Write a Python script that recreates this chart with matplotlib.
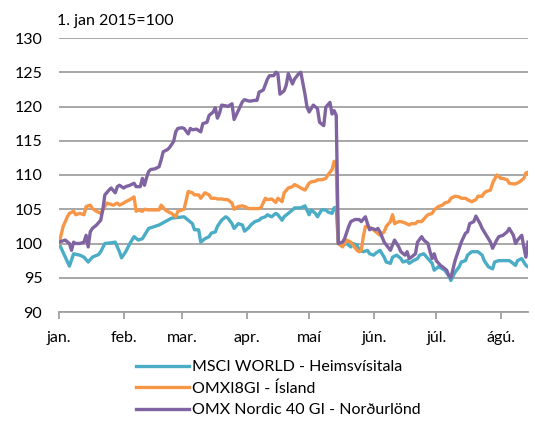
import numpy as np
import pandas as pd
import matplotlib
matplotlib.use("Agg")
import matplotlib.pyplot as plt

# days since 1 jan 2015 and index values
msci_days = [0, 5, 7, 10, 12, 14, 16, 19, 20, 22, 25, 27, 29, 30, 32, 34, 36, 38, 40, 41,
             43, 46, 48, 51, 54, 57, 60, 62, 64, 65, 67, 68, 70, 72, 73, 75, 76, 78, 80, 81,
             83, 84, 86, 88, 89, 91, 92, 94, 96, 97, 99, 100, 102, 104, 105, 107, 108, 110, 112, 113,
             115, 116, 118, 120, 121, 123, 124, 126, 128, 129, 131, 132, 133,
             134, 136, 138, 140, 141, 143, 144, 146, 148, 149, 151, 152, 154, 156, 157, 159, 160,
             162, 164, 165, 167, 168, 170, 172, 173, 175, 177, 179, 180, 182, 184, 185, 187, 188, 190,
             192, 193, 195, 196, 198, 200, 201, 203, 204, 206, 208, 209, 211, 212, 214, 216, 217, 219,
             220, 222, 224, 225]
msci = [100, 96.7, 98.5, 98.3, 98.0, 97.3, 98.0, 98.4, 98.8, 100, 100.1, 100.2, 98.8, 97.9, 98.8, 100, 101, 100.5, 100.7, 101.2,
        102.2, 102.5, 102.7, 103.2, 103.7, 103.8, 103.9, 103.4, 102.9, 102.0, 102.0, 100.2, 100.7, 101.0, 101.5, 101.7, 102.5, 103.4, 103.9, 103.7,
        102.9, 102.2, 102.9, 102.7, 101.8, 102.3, 102.7, 103.2, 103.4, 103.7, 103.9, 104.2, 103.9, 104.4, 104.2, 103.4, 103.9, 104.4, 104.9, 105.2,
        105.2, 105.2, 105.5, 104.2, 104.9, 104.4, 103.9, 104.9, 104.9, 104.6, 104.4, 105.2, 105.3,
        100, 99.8, 100.0, 99.5, 100, 99.8, 99.0, 98.8, 99.0, 98.5, 98.3, 98.6, 99.0, 98.0, 97.3, 97.1, 98.0,
        98.3, 97.8, 97.3, 97.5, 97.1, 97.5, 97.8, 98.3, 98.5, 97.8, 97.1, 96.1, 96.6, 96.3, 96.1, 95.3, 94.6, 95.8,
        96.6, 97.3, 97.5, 98.3, 98.8, 98.8, 98.8, 98.3, 97.5, 96.6, 96.3, 97.3, 97.5, 97.5, 97.5, 97.5, 97.3, 96.8,
        97.5, 97.8, 96.8, 96.6]

omxi_days = [0, 2, 4, 5, 7, 8, 10, 12, 13, 15, 16, 18, 20, 21, 23, 24, 26, 28, 29, 31,
             32, 34, 36, 37, 38, 40, 41, 43, 44, 46, 48, 49, 51, 52, 54, 56, 57, 59, 60, 62,
             64, 65, 67, 68, 70, 72, 73, 75, 76, 78, 80, 81, 83, 84, 86, 88, 89, 91, 92, 94,
             96, 97, 99, 100, 102, 104, 105, 107, 108, 110, 112, 113, 115, 116, 118, 120, 121, 123, 124, 126,
             128, 129, 131, 132, 133,
             134, 136, 138, 140, 141, 143, 144, 145, 146, 147, 148, 150, 152, 154, 156, 157, 159, 160, 161,
             163, 164, 166, 168, 169, 171, 172, 174, 176, 177, 179, 180, 182, 184, 185, 187, 188, 190, 192,
             193, 195, 196, 198, 200, 201, 203, 204, 205, 207, 208, 210, 212, 213, 215, 216, 218, 219, 221,
             223, 224, 225]
omxi = [100, 102.5, 103.9, 104.4, 104.7, 104.2, 104.4, 104.2, 105.4, 105.6, 105.1, 104.7, 104.4, 104.9, 105.9, 105.8, 105.6, 105.9, 105.6, 105.9,
        106.1, 106.4, 106.8, 104.7, 104.9, 104.7, 105.0, 104.9, 104.9, 104.9, 104.9, 105.6, 104.9, 104.7, 104.4, 103.9, 104.7, 104.9, 105.0, 107.6,
        107.4, 107.1, 107.1, 106.6, 107.4, 107.1, 106.6, 106.6, 106.5, 106.5, 106.4, 106.4, 105.9, 105.0, 105.4, 105.5, 105.4, 105.1, 105.1, 105.1,
        105.1, 105.3, 106.6, 106.4, 106.5, 106.0, 106.6, 106.1, 107.4, 108.1, 108.3, 108.6, 108.3, 108.1, 107.8, 108.8, 109.0, 109.1, 109.3, 109.3,
        109.5, 110.0, 110.8, 112.0, 111.2,
        100, 99.5, 100.5, 100.2, 99.8, 99.0, 98.8, 99.0, 101.0, 102.5, 102.5, 102.2, 101.7, 101.2, 101.7, 102.5, 103.2, 104.2, 102.9,
        103.2, 103.2, 103.0, 102.7, 102.9, 102.9, 103.2, 103.2, 103.9, 104.2, 104.4, 104.9, 105.4, 105.6, 105.9, 106.1, 106.6, 106.9, 106.8,
        106.6, 106.6, 106.4, 106.1, 106.4, 106.9, 106.9, 107.4, 107.6, 107.8, 108.8, 110.0, 109.5, 109.5, 109.3, 108.8, 108.7, 108.7, 109.0,
        109.5, 110.3, 110.4]

nordic_days = [0, 3, 5, 6, 7, 8, 10, 12, 13, 14, 15, 16, 18, 20, 21, 22, 24, 25, 27, 28,
               29, 31, 32, 34, 36, 37, 39, 40, 41, 42, 43, 44, 46, 48, 49, 50, 52, 53, 55, 56,
               57, 59, 60, 62, 63, 64, 66, 68, 69, 71, 72, 74, 75, 76, 77, 78, 80, 81, 83, 84,
               86, 88, 89, 91, 92, 94, 95, 96, 98, 100, 101, 103, 104, 105, 106, 108, 109, 110, 112, 113,
               115, 116, 118, 119, 120, 122, 124, 125, 127, 128, 130, 131, 132, 133,
               134, 136, 137, 139, 140, 142, 144, 145, 147, 148, 149, 150, 152, 153, 154, 156, 157, 159, 160,
               161, 163, 164, 166, 167, 168, 169, 171, 172, 174, 175, 177, 178, 179, 180, 181, 183, 184, 186,
               187, 188, 190, 192, 193, 195, 196, 197, 199, 200, 202, 203, 205, 207, 208, 210, 211, 213, 215,
               216, 218, 219, 220, 222, 223, 224, 225]
nordic = [100.2, 100.5, 100.0, 99.0, 100.2, 100.0, 100.0, 100.2, 101.2, 99.5, 101.7, 102.2, 102.7, 103.4, 104.9, 107.1, 107.8, 108.1, 107.4, 108.3,
          108.5, 108.1, 108.3, 108.5, 108.8, 108.3, 108.3, 109.5, 108.5, 109.6, 110.5, 110.8, 110.9, 111.2, 112.2, 113.4, 113.7, 114.0, 114.9, 116.3,
          116.8, 116.9, 116.8, 116.0, 116.8, 116.6, 116.7, 116.3, 117.5, 117.7, 118.7, 119.2, 119.8, 118.3, 119.0, 120.2, 120.1, 120.0, 120.4, 118.1,
          119.4, 120.7, 121.0, 120.8, 120.8, 120.9, 120.9, 122.1, 122.4, 124.0, 124.5, 124.5, 125.0, 124.8, 121.8, 122.3, 123.1, 124.8, 123.3, 124.0,
          124.8, 125.0, 121.8, 119.9, 119.2, 120.2, 119.7, 117.7, 117.2, 119.9, 120.6, 118.9, 119.4, 118.7,
          100, 100.2, 100.7, 102.5, 103.2, 103.5, 103.5, 103.2, 103.9, 102.9, 102.0, 102.2, 102.0, 102.2, 101.7, 100.2, 99.8, 99.0, 99.8,
          100.5, 99.5, 98.8, 98.3, 98.8, 97.8, 98.0, 98.5, 100.2, 101.0, 100.5, 100.0, 98.8, 97.8, 98.5, 97.5, 96.8, 96.6, 96.1,
          95.3, 95.0, 97.5, 99.3, 100.2, 101.5, 101.7, 102.9, 103.2, 104.0, 102.9, 102.2, 101.2, 100.2, 99.3, 100.5, 101.0, 101.2, 101.7,
          102.2, 101.2, 100.0, 100.5, 101.2, 99.5, 98.0, 100.2]

labels = ["MSCI WORLD - Heimsvísitala", "OMXI8GI - Ísland", "OMX Nordic 40 GI - Norðurlönd"]
colors = ["#4BACC6", "#F79646", "#8064A2"]
month_labels = ["jan.", "feb.", "mar.", "apr.", "maí", "jún.", "júl.", "ágú."]
yticks = [90, 95, 100, 105, 110, 115, 120, 125, 130]

start = pd.Timestamp("2015-01-01")


def to_dates(days):
    return start + pd.to_timedelta(days, unit="D")


plt.rcParams["font.family"] = ["Lato", "DejaVu Sans"]

fig = plt.figure(figsize=(5.35, 4.21), dpi=100)
ax = fig.add_axes([59 / 535, 1 - 312 / 421, 469 / 535, 274 / 421])

series = [(msci_days, msci), (omxi_days, omxi), (nordic_days, nordic)]
for (d, v), lab, col in zip(series, labels, colors):
    ax.plot(to_dates(d), v, color=col, lw=2.4, label=lab, solid_joinstyle="round")

ax.set_ylim(90, 130)
ax.set_yticks(yticks)
ax.set_xlim(start, start + pd.Timedelta(days=225))
months = pd.date_range("2015-01-01", periods=8, freq="MS")
ax.set_xticks(months)
ax.set_xticklabels(month_labels)

ax.grid(axis="y", color="#a0a0a0", lw=1.3)
ax.set_axisbelow(True)
for s in ["top", "right", "left"]:
    ax.spines[s].set_visible(False)
ax.spines["bottom"].set_color("#a0a0a0")
ax.spines["bottom"].set_linewidth(1.3)
ax.tick_params(axis="y", length=0, pad=12, labelsize=11.5)
ax.tick_params(axis="x", length=5, width=1.3, color="#a0a0a0", pad=9, labelsize=11.5)

fig.text(57 / 535, 1 - 21 / 421, "1. jan 2015=100", fontsize=11.5, va="center", ha="left")

fig.legend(loc="upper left", bbox_to_anchor=(128 / 535, 1 - 352 / 421), frameon=False,
           fontsize=11.5, handlelength=3.3, handletextpad=0.2, labelspacing=0.45, borderpad=0)

fig.savefig("out.png", dpi=100)
